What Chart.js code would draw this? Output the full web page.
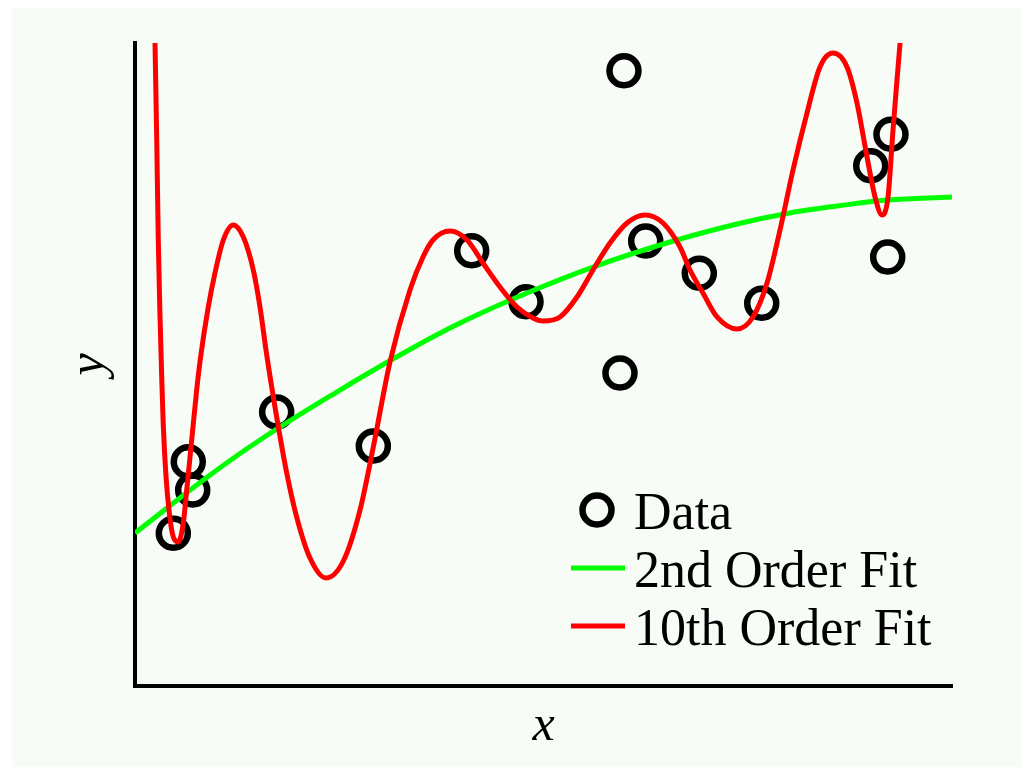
<!DOCTYPE html>
<html>
<head>
<meta charset="utf-8">
<script src="https://cdn.jsdelivr.net/npm/chart.js@4/dist/chart.umd.min.js"></script>
<style>
  html, body { margin: 0; padding: 0; background: #ffffff; }
  canvas { display: block; }
</style>
</head>
<body>
<canvas id="chart" width="1021" height="767"></canvas>
<script>
// observed data points
const dataX = [0.469, 0.652, 0.706, 1.734, 2.917, 4.121, 4.786, 5.936, 5.985, 6.251, 6.907, 7.671, 9.005, 9.253, 9.213];
const dataY = [2.375, 3.488, 3.048, 4.261, 3.733, 6.770, 5.977, 4.868, 9.569, 6.921, 6.418, 5.952, 8.092, 8.580, 6.672];

// 2nd order fit
const fit2X = [0, 0.878, 1.530, 2.469, 3.244, 3.978, 4.798, 5.606, 6.548, 7.368, 7.980, 8.592, 9.204, 10];
const fit2Y = [2.379, 3.243, 3.826, 4.572, 5.148, 5.645, 6.112, 6.516, 6.905, 7.185, 7.349, 7.465, 7.558, 7.605];

// 10th order fit (runs past the top at both ends)
const fit10X = [0.233, 0.245, 0.266, 0.285, 0.306, 0.327, 0.346, 0.379, 0.420, 0.469, 0.530,
  0.591, 0.633, 0.694, 0.755, 0.803, 0.897, 0.979, 1.081, 1.203, 1.326, 1.448, 1.530,
  1.612, 1.734, 1.857, 1.979, 2.142, 2.338, 2.550, 2.754, 2.917, 3.121, 3.366, 3.525,
  3.647, 3.856, 4.064, 4.259, 4.468, 4.676, 4.871, 4.994, 5.202, 5.410, 5.606, 5.814,
  6.022, 6.242, 6.463, 6.671, 6.793, 6.952, 7.124, 7.368, 7.564, 7.736, 7.895, 8.054,
  8.225, 8.384, 8.543, 8.715, 8.837, 8.960, 9.058, 9.143, 9.217, 9.278, 9.327, 9.364, 9.412];
const fit10Y = [10.902, 10.000, 8.491, 6.936, 5.754, 4.806, 4.059, 3.266, 2.691, 2.317, 2.240,
  2.535, 3.048, 3.826, 4.603, 5.117, 5.894, 6.423, 6.936, 7.170, 6.983, 6.470, 5.894,
  5.148, 4.184, 3.313, 2.628, 1.991, 1.680, 1.944, 2.737, 3.717, 5.039, 6.159, 6.672,
  6.936, 7.076, 6.936, 6.579, 6.205, 5.894, 5.723, 5.677, 5.739, 6.050, 6.470, 6.890,
  7.201, 7.325, 7.201, 6.827, 6.470, 6.112, 5.739, 5.552, 5.739, 6.267, 7.092, 8.025,
  8.911, 9.627, 9.844, 9.627, 9.067, 8.227, 7.605, 7.325, 7.605, 8.647, 9.425, 10.000, 10.902];

const seriesNames = ['Data', '2nd Order Fit', '10th Order Fit'];

const toPoints = (xs, ys) => xs.map((x, i) => ({ x: x, y: ys[i] }));

const serif = '"Liberation Serif", "DejaVu Serif", serif';

const pageBackground = {
  id: 'pageBackground',
  beforeDraw(chart) {
    const ctx = chart.ctx;
    ctx.save();
    ctx.fillStyle = '#f7fcf7';
    ctx.fillRect(12, 8, chart.width - 12, chart.height - 8);
    ctx.restore();
  }
};

// legend in the lower right of the plot area
const fitLegend = {
  id: 'fitLegend',
  afterDraw(chart) {
    const ctx = chart.ctx;
    const markX = 597, lineX0 = 571, lineX1 = 625, textX = 634;
    const firstRow = 510, rowGap = 58;
    ctx.save();
    chart.data.datasets.forEach((ds, i) => {
      const y = firstRow + i * rowGap;
      ctx.strokeStyle = ds.borderColor;
      ctx.lineWidth = ds.borderWidth;
      ctx.beginPath();
      if (ds.showLine) {
        ctx.moveTo(lineX0, y);
        ctx.lineTo(lineX1, y);
      } else {
        ctx.arc(markX, y, ds.pointRadius, 0, Math.PI * 2);
      }
      ctx.stroke();
      ctx.fillStyle = '#000000';
      ctx.font = '52px ' + serif;
      ctx.textBaseline = 'alphabetic';
      ctx.textAlign = 'left';
      ctx.fillText(ds.label, textX, y + 19);
    });
    ctx.restore();
  }
};

new Chart(document.getElementById('chart'), {
  type: 'scatter',
  data: {
    datasets: [
      {
        label: seriesNames[0],
        data: toPoints(dataX, dataY),
        showLine: false,
        pointRadius: 14.5,
        pointHoverRadius: 14.5,
        borderWidth: 6.5,
        borderColor: '#000000',
        backgroundColor: 'rgba(0,0,0,0)',
        order: 3
      },
      {
        label: seriesNames[1],
        data: toPoints(fit2X, fit2Y),
        showLine: true,
        pointRadius: 0,
        borderWidth: 5,
        borderColor: '#00ff00',
        tension: 0.4,
        order: 2
      },
      {
        label: seriesNames[2],
        data: toPoints(fit10X, fit10Y),
        showLine: true,
        pointRadius: 0,
        borderWidth: 5,
        borderColor: '#ff0000',
        cubicInterpolationMode: 'monotone',
        order: 1
      }
    ]
  },
  options: {
    responsive: false,
    animation: false,
    devicePixelRatio: 1,
    layout: {
      padding: { left: 0, top: 43, right: 69, bottom: 0 }
    },
    plugins: {
      legend: { display: false },
      tooltip: { enabled: false }
    },
    scales: {
      x: {
        type: 'linear',
        min: 0,
        max: 10,
        grid: { display: false },
        ticks: { display: false },
        border: { display: true, color: '#000000', width: 4 },
        title: {
          display: true,
          text: 'x',
          color: '#000000',
          font: { family: serif, size: 50, style: 'italic', lineHeight: 1 },
          padding: { top: 0, bottom: 15 }
        },
        afterFit(scale) { scale.height = 81; }
      },
      y: {
        type: 'linear',
        min: 0,
        max: 10,
        grid: { display: false },
        ticks: { display: false },
        border: { display: true, color: '#000000', width: 4 },
        title: {
          display: true,
          text: 'y',
          color: '#000000',
          font: { family: serif, size: 50, style: 'italic', lineHeight: 1 },
          padding: { top: 65, bottom: 0 }
        },
        afterFit(scale) { scale.width = 135; }
      }
    }
  },
  plugins: [pageBackground, fitLegend]
});
</script>
</body>
</html>
